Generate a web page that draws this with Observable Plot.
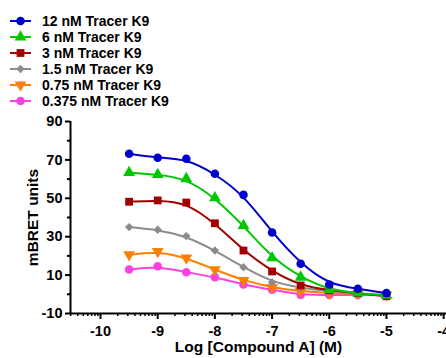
<!DOCTYPE html>
<html><head><meta charset="utf-8">
<script src="https://cdn.jsdelivr.net/npm/d3@7"></script>
<script src="https://cdn.jsdelivr.net/npm/@observablehq/plot@0.6"></script>
<style>
body{margin:0;background:#fff;font-family:"Liberation Sans",Arial,sans-serif;}
#legend{position:relative;height:110px;width:446px;}
.row{position:absolute;left:0;height:16px;width:300px;}
.row svg{position:absolute;left:0;top:0;}
.row span{position:absolute;left:42px;top:0;line-height:16px;font-weight:bold;font-size:14px;color:#000;white-space:nowrap;}
#chart svg{display:block;}
</style></head><body>
<div id="legend"></div>
<div id="chart"></div>
<script>
// Data
const logDose = [-9.5, -9, -8.5, -8, -7.5, -7, -6.5, -6, -5.5, -5];
const seriesNames = ["12 nM Tracer K9", "6 nM Tracer K9", "3 nM Tracer K9", "1.5 nM Tracer K9", "0.75 nM Tracer K9", "0.375 nM Tracer K9"];
const tracer12 = [73.2, 71.1, 70.6, 62.8, 51.8, 32.2, 15.9, 5.1, 2.9, 0.6];
const tracer6 = [63.4, 62.4, 60.2, 50.3, 35.8, 19.0, 8.9, 2.3, 0.6, -0.6];
const tracer3 = [48.2, 48.9, 47.8, 37.0, 22.8, 11.9, 4.6, 2.0, 0.6, -1.0];
const tracer1p5 = [35.0, 33.6, 30.3, 22.8, 14.1, 6.3, 3.4, 1.6, 0.3, -0.7];
const tracer0p75 = [20.6, 22.3, 19.0, 12.8, 7.2, 3.6, 1.5, 0.6, 0.3, -0.3];
const tracer0p375 = [12.9, 14.6, 11.5, 8.9, 5.1, 2.4, -0.3, -0.3, -0.3, -0.6];
const yMajorTicks = [-10, 10, 30, 50, 70, 90];
const yMinorTicks = [0, 20, 40, 60, 80];
const xMajorTicks = [-10, -9, -8, -7, -6, -5, -4];
const xLabel = "Log [Compound A] (M)";
const yLabel = "mBRET units";

// Styles
const colors = ["#0000CC", "#00C800", "#A00000", "#8C8C8C", "#FF8000", "#FF40E0"];
const triangleDown = {
  draw(context, size) {
    const y = -Math.sqrt(size / (Math.sqrt(3) * 3));
    context.moveTo(0, -2 * y);
    context.lineTo(-Math.sqrt(3) * y, y);
    context.lineTo(Math.sqrt(3) * y, y);
    context.closePath();
  }
};
const symbols = [d3.symbolCircle, d3.symbolTriangle, d3.symbolSquare, d3.symbolDiamond2, triangleDown, d3.symbolCircle];
const radii = [4.3, 4.4, 4.4, 3.8, 4.4, 4.3];

const allValues = [tracer12, tracer6, tracer3, tracer1p5, tracer0p75, tracer0p375];
const rows = [];
allValues.forEach((vals, k) => vals.forEach((v, j) => rows.push({k, series: seriesNames[k], x: logDose[j], y: v})));

// minor log ticks
const xMinorTicks = [];
for (let n = -11; n <= -4; n++) for (let m = 2; m <= 9; m++) xMinorTicks.push(n + Math.log10(m));

const xDomain = [-10.525, -3.95];
const font = "'Liberation Sans', Arial, sans-serif";

// Legend
const legend = d3.select("#legend");
seriesNames.forEach((name, k) => {
  const row = legend.append("div").attr("class", "row").style("top", (12.5 + 16 * k) + "px");
  const svg = row.append("svg").attr("width", 36).attr("height", 16);
  svg.append("line").attr("x1", 10).attr("x2", 31).attr("y1", 8).attr("y2", 8)
    .attr("stroke", colors[k]).attr("stroke-width", 2);
  svg.append("path").attr("transform", "translate(20.5,8)")
    .attr("d", d3.symbol(symbols[k], radii[k] * radii[k] * Math.PI)())
    .attr("fill", colors[k]);
  row.append("span").text(name);
});

const marks = [];
[5, 4, 3, 2, 1, 0].forEach(k => {
  const d = rows.filter(r => r.k === k);
  marks.push(Plot.line(d, {x: "x", y: "y", stroke: colors[k], strokeWidth: 2, curve: "basis"}));
  marks.push(Plot.dot(d, {x: "x", y: "y", fill: colors[k], stroke: "none", symbol: symbols[k], r: radii[k]}));
});

const chart = Plot.plot({
  width: 446,
  height: 248,
  marginTop: 11,
  marginBottom: 45,
  marginLeft: 70,
  marginRight: 0,
  style: {fontFamily: font, fontSize: "14.5px", fontWeight: "bold", background: "#fff", color: "#000", overflow: "visible"},
  x: {type: "linear", domain: xDomain},
  y: {type: "linear", domain: [-10, 90]},
  marks: [
    Plot.axisY({ticks: yMajorTicks, tickSize: 5, tickPadding: 3, tickFormat: d => String(d), strokeWidth: 2, label: null, fontSize: 14.5, fontWeight: "bold"}),
    Plot.axisY({ticks: yMinorTicks, tickSize: 3, tickFormat: () => "", strokeWidth: 2, label: null}),
    Plot.axisX({ticks: xMajorTicks, tickSize: 6, tickPadding: 6, tickFormat: d => String(d), strokeWidth: 2, label: null, fontSize: 14.5, fontWeight: "bold"}),
    Plot.axisX({ticks: xMinorTicks, tickSize: 3, tickFormat: () => "", strokeWidth: 1.5, label: null}),
    Plot.ruleX([xDomain[0]], {stroke: "#000", strokeWidth: 2}),
    Plot.ruleY([-10], {stroke: "#000", strokeWidth: 2}),
    Plot.text([xLabel], {frameAnchor: "bottom", dy: 34, lineAnchor: "middle", textAnchor: "middle", fontSize: 15.5, fontWeight: "bold", fill: "#000"}),
    Plot.text([yLabel], {frameAnchor: "left", dx: -37, rotate: -90, lineAnchor: "middle", textAnchor: "middle", fontSize: 15.5, fontWeight: "bold", fill: "#000"}),
    ...marks
  ]
});
document.getElementById("chart").appendChild(chart);
</script>
</body></html>
